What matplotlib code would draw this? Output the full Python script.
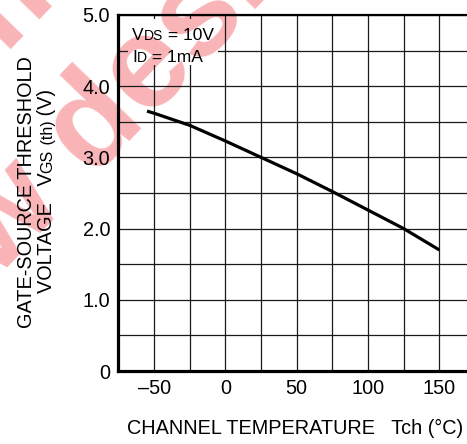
import math
import matplotlib
matplotlib.use("Agg")
import matplotlib.pyplot as plt
from matplotlib.patches import Rectangle

plt.rcParams['font.family'] = ['Liberation Sans', 'DejaVu Sans']

# ---- data ----
temps = [-55, -50, -25, 0, 25, 50, 75, 100, 125, 150]
vth = [3.65, 3.62, 3.45, 3.23, 3.00, 2.77, 2.52, 2.26, 2.00, 1.70]
xticks = [-50, 0, 50, 100, 150]
xticklabels = ['\u201350', '0', '50', '100', '150']
yticks = [0, 1, 2, 3, 4, 5]
yticklabels = ['0', '1.0', '2.0', '3.0', '4.0', '5.0']

W, H = 467, 444
fig = plt.figure(figsize=(W / 100, H / 100), dpi=100)
fig.patch.set_facecolor('white')

def fx(px):
    return px / W

def fy(py):
    return 1 - py / H

FS = 14.3

ax = fig.add_axes([fx(118.5), fy(371), (475 - 118.5) / W, (371 - 15) / H])
ax.set_facecolor('none')
ax.set_xlim(-75, 175)
ax.set_ylim(0, 5)

ax.set_xticks(xticks)
ax.set_xticklabels(xticklabels)
ax.set_yticks(yticks)
ax.set_yticklabels(yticklabels)
ax.set_xticks(list(range(-75, 176, 25)), minor=True)
ax.set_yticks([v / 2 for v in range(0, 11)], minor=True)
ax.tick_params(which='both', length=0)
ax.tick_params(axis='x', pad=6, labelsize=FS)
ax.tick_params(axis='y', pad=6, labelsize=FS)
ax.grid(which='both', color='#1a1a1a', linewidth=0.9)

for side in ['left', 'bottom']:
    ax.spines[side].set_linewidth(2.3)
ax.spines['top'].set_linewidth(1.6)
ax.spines['right'].set_visible(False)
for s in ax.spines.values():
    s.set_zorder(6)

ax.plot(temps, vth, color='black', linewidth=2.3, zorder=4, solid_capstyle='butt')

# white box behind the condition text
box = Rectangle((-68.3, 4.30), 63, 0.64, facecolor='white', edgecolor='none', zorder=2.5)
ax.add_patch(box)

renderer = fig.canvas.get_renderer()

# ---- watermark ----
ang = 46
u = (math.cos(math.radians(ang)), -math.sin(math.radians(ang)))   # baseline dir (image px)
n = (math.sin(math.radians(ang)), math.cos(math.radians(ang)))    # down normal (image px)
wm_fs = 95
wm_color = '#f9b4b7'
tmp = fig.text(0, 0, 'for new ', fontsize=wm_fs, fontweight='bold')
wlen = tmp.get_window_extent(renderer).width
tmp.remove()
ax0, ay0 = 92, 180           # baseline-left of the "d"
l2 = (ax0 - wlen * u[0], ay0 - wlen * u[1])
lsp = 150
l1 = (l2[0] - lsp * n[0], l2[1] - lsp * n[1])
wm_kw = dict(fontsize=wm_fs, fontweight='bold', color=wm_color, rotation=ang,
             rotation_mode='anchor', ha='left', va='baseline')
fig.text(fx(l1[0]), fy(l1[1]), 'Not recommended', zorder=-5, **wm_kw)
fig.text(fx(l2[0]), fy(l2[1]), 'for new designs', zorder=-5, **wm_kw)
wm2 = ax.text(fx(l2[0]), fy(l2[1]), 'for new designs', transform=fig.transFigure,
              zorder=2.7, **wm_kw)
wm2.set_clip_on(True)
wm2.set_clip_path(box)

def rich(x_px, y_px, pieces, rotation=0, align='left', zorder=5):
    texts = []
    for s, size in pieces:
        t = fig.text(0, 0, s, fontsize=size, rotation=rotation,
                     rotation_mode='anchor', ha='left', va='baseline', zorder=zorder)
        texts.append(t)
    lens = []
    for t in texts:
        bb = t.get_window_extent(renderer)
        lens.append(bb.height if rotation == 90 else bb.width)
    total = sum(lens)
    pos = 0 if align == 'left' else -total / 2
    for t, L in zip(texts, lens):
        if rotation == 90:
            t.set_position((fx(x_px), fy(y_px) + pos / H))
        else:
            t.set_position((fx(x_px) + pos / W, fy(y_px)))
        pos += L
    return texts

big, small = 12.5, 10
rich(132, 40.5, [('V', big), ('DS', small), (' = 10V', big)])
rich(132, 62.5, [('I', big), ('D', small), (' = 1mA', big)])

# y label (two rotated lines)
rich(32, 192, [('GATE-SOURCE THRESHOLD', FS)], rotation=90, align='center')
rich(52.5, 191, [('VOLTAGE   V', FS), ('GS', 11.5), (' (th)', 11.5), (' (V)', FS)],
     rotation=90, align='center')

# x label
fig.text(fx(295), fy(434), 'CHANNEL TEMPERATURE   Tch (\u00b0C)', fontsize=FS,
         ha='center', va='baseline')

fig.savefig('out.png', dpi=100)
